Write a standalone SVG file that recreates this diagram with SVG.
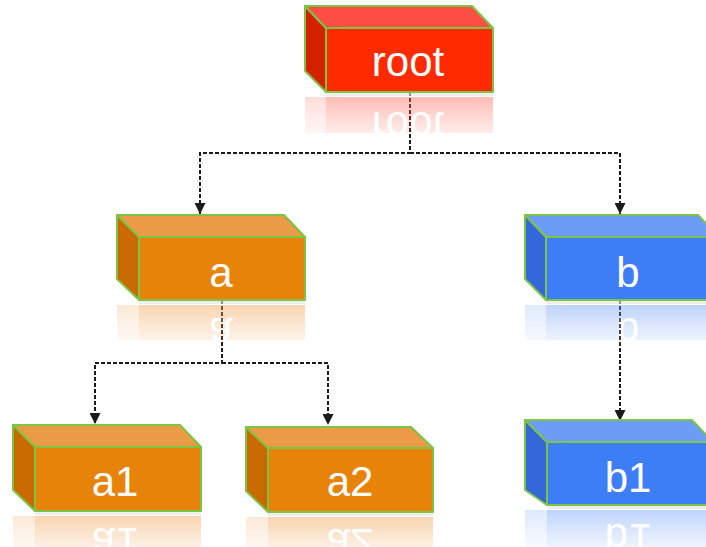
<svg xmlns="http://www.w3.org/2000/svg" width="706" height="547" viewBox="0 0 706 547">
<style>
  .edge { stroke: #1a1a1a; stroke-width: 2; fill: none; stroke-dasharray: 4 2; }
  .outline { stroke: #7cc443; stroke-width: 2; stroke-linejoin: round; }
  .label { font-family: "Liberation Sans", Arial, sans-serif; font-size: 42px; fill: #ffffff; text-anchor: middle; }
  .red .front { fill: #ff2a00; } .red .top { fill: #ff4f45; } .red .side { fill: #d42100; } .red .refl { fill: #ff6a5a; }
  .orange .front { fill: #e8830a; } .orange .top { fill: #eb9a45; } .orange .side { fill: #c96a00; } .orange .refl { fill: #f0a050; }
  .blue .front { fill: #3d7ef6; } .blue .top { fill: #6b9df6; } .blue .side { fill: #3467da; } .blue .refl { fill: #6f9ff7; }
  .shadow { fill: #e2e2e2; }
</style>
<defs>
  <marker id="arrow" markerUnits="userSpaceOnUse" markerWidth="11" markerHeight="11" viewBox="0 0 10 10" refX="10" refY="5" orient="auto">
    <path d="M0,0 L10,5 L0,10 z" fill="#1a1a1a"/>
  </marker>
  <linearGradient id="fadeGrad" x1="0" y1="0" x2="0" y2="1">
    <stop offset="0" stop-color="#fff" stop-opacity="0.45"/>
    <stop offset="0.5" stop-color="#fff" stop-opacity="0.2"/>
    <stop offset="1" stop-color="#fff" stop-opacity="0"/>
  </linearGradient>
  <mask id="fade" maskContentUnits="objectBoundingBox">
    <rect x="0" y="0" width="1" height="1" fill="url(#fadeGrad)"/>
  </mask>
</defs>

<g id="connectors">
  <path class="edge" d="M410,92 V153 H200 V214" marker-end="url(#arrow)"/>
  <path class="edge" d="M410,153 H620 V214" marker-end="url(#arrow)"/>
  <path class="edge" d="M222,300 V363 H95 V424" marker-end="url(#arrow)"/>
  <path class="edge" d="M222,363 H328 V425" marker-end="url(#arrow)"/>
  <path class="edge" d="M620,300 V421" marker-end="url(#arrow)"/>
</g>

<g id="node-root" class="red">
  <g mask="url(#fade)">
    <polygon class="refl" points="305,97 326,97 326,133 305,133" opacity="0.5"/>
    <rect class="refl" x="326" y="97" width="167" height="36"/>
    <text class="label" x="0" y="0" transform="translate(408,112) scale(1,-1)">root</text>
  </g>
  <rect class="shadow" x="326" y="93" width="167" height="3" opacity="0.6"/>
  <polygon class="side outline" points="305,6 326,28 326,92 305,71"/>
  <polygon class="top outline" points="305,6 472,6 493,28 326,28"/>
  <rect class="front outline" x="326" y="28" width="167" height="64"/>
  <text class="label" x="408" y="76">root</text>
</g>

<g id="node-a" class="orange">
  <g mask="url(#fade)">
    <polygon class="refl" points="117,305 139,305 139,340 117,340" opacity="0.5"/>
    <rect class="refl" x="139" y="305" width="166" height="35"/>
    <text class="label" x="0" y="0" transform="translate(221,318) scale(1,-1)">a</text>
  </g>
  <rect class="shadow" x="139" y="301" width="166" height="3" opacity="0.6"/>
  <polygon class="side outline" points="117,215 139,237 139,300 117,279"/>
  <polygon class="top outline" points="117,215 284,215 305,237 139,237"/>
  <rect class="front outline" x="139" y="237" width="166" height="63"/>
  <text class="label" x="221" y="287">a</text>
</g>

<g id="node-b" class="blue">
  <g mask="url(#fade)">
    <polygon class="refl" points="525,305 546,305 546,340 525,340" opacity="0.5"/>
    <rect class="refl" x="546" y="305" width="173" height="35"/>
    <text class="label" x="0" y="0" transform="translate(628,318) scale(1,-1)">b</text>
  </g>
  <rect class="shadow" x="546" y="301" width="173" height="3" opacity="0.6"/>
  <polygon class="side outline" points="525,215 546,237 546,300 525,279"/>
  <polygon class="top outline" points="525,215 698,215 719,237 546,237"/>
  <rect class="front outline" x="546" y="237" width="173" height="63"/>
  <text class="label" x="628" y="287">b</text>
</g>

<g id="node-a1" class="orange">
  <g mask="url(#fade)">
    <polygon class="refl" points="13,516 35,516 35,547 13,547" opacity="0.5"/>
    <rect class="refl" x="35" y="516" width="166" height="31"/>
    <text class="label" x="0" y="0" transform="translate(115,528) scale(1,-1)">a1</text>
  </g>
  <rect class="shadow" x="35" y="512" width="166" height="3" opacity="0.6"/>
  <polygon class="side outline" points="13,425 35,447 35,511 13,490"/>
  <polygon class="top outline" points="13,425 180,425 201,447 35,447"/>
  <rect class="front outline" x="35" y="447" width="166" height="64"/>
  <text class="label" x="115" y="496">a1</text>
</g>

<g id="node-a2" class="orange">
  <g mask="url(#fade)">
    <polygon class="refl" points="246,517 268,517 268,547 246,547" opacity="0.5"/>
    <rect class="refl" x="268" y="517" width="165" height="30"/>
    <text class="label" x="0" y="0" transform="translate(350,529) scale(1,-1)">a2</text>
  </g>
  <rect class="shadow" x="268" y="513" width="165" height="3" opacity="0.6"/>
  <polygon class="side outline" points="246,427 268,448 268,512 246,491"/>
  <polygon class="top outline" points="246,427 411,427 433,448 268,448"/>
  <rect class="front outline" x="268" y="448" width="165" height="64"/>
  <text class="label" x="350" y="496">a2</text>
</g>

<g id="node-b1" class="blue">
  <g mask="url(#fade)">
    <polygon class="refl" points="525,510 547,510 547,547 525,547" opacity="0.5"/>
    <rect class="refl" x="547" y="510" width="166" height="37"/>
    <text class="label" x="0" y="0" transform="translate(628,524) scale(1,-1)">b1</text>
  </g>
  <rect class="shadow" x="547" y="506" width="166" height="3" opacity="0.6"/>
  <polygon class="side outline" points="525,420 547,442 547,505 525,490"/>
  <polygon class="top outline" points="525,420 692,420 713,442 547,442"/>
  <rect class="front outline" x="547" y="442" width="166" height="63"/>
  <text class="label" x="628" y="492">b1</text>
</g>
</svg>
